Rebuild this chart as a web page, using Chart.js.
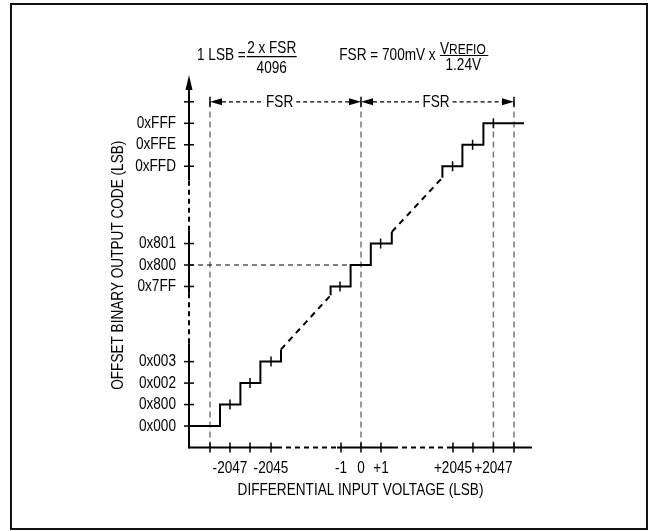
<!DOCTYPE html>
<html lang="en">
<head>
    <meta charset="UTF-8">
    <title>Offset binary transfer function</title>
    <script src="https://cdn.jsdelivr.net/npm/chart.js"></script>
    <style>
        body { margin: 0; background: #fff; }
        canvas { display: block; }
    </style>
</head>
<body>
    <canvas id="transferChart" width="649" height="531"></canvas>

    <script>
        const FONT = "'Liberation Sans', Arial, sans-serif";
        const NARROW = 0.8; // the original uses a condensed face

        // axis ticks (schematic positions, 1 unit ~ 1 LSB)
        const xTicks = [-7.55, -6.55, -5.55, -4.5, -1, 0, 1, 4.6, 5.6, 6.62, 7.65];
        const xLabels = ['', '-2047', '', '-2045', '-1', '0', '+1', '+2045', '', '+2047', ''];
        const yTicks = [1, 2, 3, 4, 7.5, 8.5, 9.5, 13.1, 14.1, 15.1, 16.1];
        const yLabels = ['0x000', '0x800', '0x002', '0x003', '0x7FF', '0x800', '0x801', '0xFFD', '0xFFE', '0xFFF', ''];
        const xTitle = 'DIFFERENTIAL INPUT VOLTAGE (LSB)';
        const yTitle = 'OFFSET BINARY OUTPUT CODE (LSB)';

        // staircase pieces
        const lowStepX = [-8.6, -7.05, -7.05, -6.03, -6.03, -5.03, -5.03, -4.0, -4.0];
        const lowStepY = [1, 1, 2, 2, 3, 3, 4, 4, 4.57];
        const midStepX = [-1.52, -1.52, -0.52, -0.52, 0.49, 0.49, 1.54, 1.54];
        const midStepY = [7.09, 7.5, 7.5, 8.5, 8.5, 9.5, 9.5, 10.04];
        const highStepX = [4.07, 4.07, 5.07, 5.07, 6.12, 6.12, 8.15];
        const highStepY = [12.57, 13.1, 13.1, 14.1, 14.1, 15.1, 15.1];

        // dashed links between the pieces
        const linkLowX = [-4.0, -1.52];
        const linkLowY = [4.57, 7.09];
        const linkHighX = [1.54, 4.07];
        const linkHighY = [10.04, 12.57];

        // code centre marks
        const markX = [-6.55, -5.55, -4.5, -1.05, 0.98, 4.58, 5.58, 6.62];
        const markY = [2, 3, 4, 7.5, 9.5, 13.1, 14.1, 15.1];

        // reference lines
        const refVertX = [-7.55, 0, 6.62, 7.65];
        const refVertTop = [16.1, 16.1, 15.1, 16.1];
        const midCode = 8.5;
        const midCodeEnd = -0.52;

        // full scale range arrows
        const fsrRow = 16.1;
        const fsrEnds = [-7.55, 0, 7.65];
        const fsrTextX = [-4.07, 3.75];

        // broken parts of the axes
        const xAxisDashed = [[-4.2, -1.2], [1.6, 4.3]];
        const yAxisDashed = [[4.86, 7.19], [10.1, 12.44]];

        const zip = (xs, ys) => xs.map((v, i) => ({ x: v, y: ys[i] }));

        function lineSet(points, color, width, dash) {
            return {
                data: points,
                borderColor: color,
                borderWidth: width,
                borderDash: dash || [],
                pointRadius: 0,
                fill: false,
                tension: 0,
                clip: false
            };
        }

        const datasets = [
            lineSet(zip(lowStepX, lowStepY), '#000', 2),
            lineSet(zip(midStepX, midStepY), '#000', 2),
            lineSet(zip(highStepX, highStepY), '#000', 2),
            lineSet(zip(linkLowX, linkLowY), '#000', 2, [6, 5]),
            lineSet(zip(linkHighX, linkHighY), '#000', 2, [6, 5]),
            {
                data: zip(markX, markY),
                showLine: false,
                pointStyle: 'line',
                rotation: 90,
                pointRadius: 5,
                borderColor: '#000',
                borderWidth: 1.5,
                clip: false
            },
            lineSet([{ x: -8.6, y: midCode }, { x: midCodeEnd, y: midCode }], '#000', 1.2, [5, 4])
        ];
        refVertX.forEach((v, i) => {
            datasets.push(lineSet([{ x: v, y: 0 }, { x: v, y: refVertTop[i] }], '#777', 1.5, [6, 4]));
        });

        function seg(ctx, x1, y1, x2, y2, width, dash) {
            ctx.beginPath();
            ctx.lineWidth = width;
            ctx.setLineDash(dash || []);
            ctx.moveTo(x1, y1);
            ctx.lineTo(x2, y2);
            ctx.stroke();
        }

        function tri(ctx, tipX, yy, dir) {
            ctx.beginPath();
            ctx.moveTo(tipX, yy);
            ctx.lineTo(tipX - dir * 12, yy - 3.5);
            ctx.lineTo(tipX - dir * 12, yy + 3.5);
            ctx.closePath();
            ctx.fill();
        }

        // condensed text: squeeze the face horizontally
        function text(ctx, str, x, y, align, size, base, angle) {
            ctx.save();
            ctx.translate(x, y);
            if (angle) ctx.rotate(angle);
            ctx.scale(NARROW, 1);
            ctx.font = size + 'px ' + FONT;
            ctx.textAlign = align;
            ctx.textBaseline = base || 'middle';
            ctx.fillText(str, 0, 0);
            const w = ctx.measureText(str).width * NARROW;
            ctx.restore();
            return w;
        }

        function textWidth(ctx, str, size) {
            ctx.save();
            ctx.font = size + 'px ' + FONT;
            const w = ctx.measureText(str).width * NARROW;
            ctx.restore();
            return w;
        }

        const schematic = {
            id: 'schematic',
            afterDraw(chart) {
                const { ctx, chartArea: a, scales: { x, y } } = chart;
                const px = v => x.getPixelForValue(v);
                const py = v => y.getPixelForValue(v);
                ctx.save();
                ctx.fillStyle = '#000';

                // outer frame
                ctx.strokeStyle = '#111';
                ctx.lineWidth = 2;
                ctx.strokeRect(11, 4, 636, 525);
                ctx.strokeStyle = '#000';

                // x axis (broken)
                seg(ctx, a.left, a.bottom, px(xAxisDashed[0][0]), a.bottom, 2);
                seg(ctx, px(xAxisDashed[0][0]), a.bottom, px(xAxisDashed[0][1]), a.bottom, 2, [5, 4]);
                seg(ctx, px(xAxisDashed[0][1]), a.bottom, px(xAxisDashed[1][0]), a.bottom, 2);
                seg(ctx, px(xAxisDashed[1][0]), a.bottom, px(xAxisDashed[1][1]), a.bottom, 2, [5, 4]);
                seg(ctx, px(xAxisDashed[1][1]), a.bottom, a.right, a.bottom, 2);

                // y axis (broken) with arrow
                const arrowBase = a.top + 15;
                seg(ctx, a.left, a.bottom + 1, a.left, py(yAxisDashed[0][0]), 2);
                seg(ctx, a.left, py(yAxisDashed[0][0]), a.left, py(yAxisDashed[0][1]), 2, [5, 4]);
                seg(ctx, a.left, py(yAxisDashed[0][1]), a.left, py(yAxisDashed[1][0]), 2);
                seg(ctx, a.left, py(yAxisDashed[1][0]), a.left, py(yAxisDashed[1][1]), 2, [5, 4]);
                seg(ctx, a.left, py(yAxisDashed[1][1]), a.left, arrowBase, 2);
                ctx.beginPath();
                ctx.moveTo(a.left, a.top);
                ctx.lineTo(a.left - 3.5, arrowBase);
                ctx.lineTo(a.left + 3.5, arrowBase);
                ctx.closePath();
                ctx.fill();

                // tick marks crossing the axes, and their labels
                xTicks.forEach((v, i) => {
                    seg(ctx, px(v), a.bottom - 5, px(v), a.bottom + 5, 1.5);
                    if (xLabels[i]) text(ctx, xLabels[i], px(v), a.bottom + 21, 'center', 17);
                });
                yTicks.forEach((v, i) => {
                    seg(ctx, a.left - 5, py(v), a.left + 5, py(v), 1.5);
                    if (yLabels[i]) text(ctx, yLabels[i], a.left - 13, py(v), 'right', 17);
                });

                // axis titles
                text(ctx, xTitle, (a.left + a.right) / 2, a.bottom + 43, 'center', 17);
                text(ctx, yTitle, 118, (a.top + a.bottom) / 2 + 4, 'center', 17, 'middle', -Math.PI / 2);

                // FSR arrows
                const ry = py(fsrRow);
                fsrEnds.forEach(v => seg(ctx, px(v), ry - 5, px(v), ry + 5, 1.5));
                const half = textWidth(ctx, 'FSR', 17) / 2 + 3;
                fsrTextX.forEach((t, i) => {
                    const l = px(fsrEnds[i]), r = px(fsrEnds[i + 1]);
                    const tx = px(t);
                    tri(ctx, l, ry, -1);
                    tri(ctx, r, ry, 1);
                    seg(ctx, l + 12, ry, tx - half, ry, 1.2, [4, 3]);
                    seg(ctx, tx + half, ry, r - 12, ry, 1.2, [4, 3]);
                    text(ctx, 'FSR', tx, ry, 'center', 17);
                });

                // formulas
                text(ctx, '1 LSB =', 197, 55, 'left', 17);
                text(ctx, '2 x FSR', 271.7, 48.3, 'center', 17);
                seg(ctx, 246.7, 56.7, 296.7, 56.7, 1.2);
                text(ctx, '4096', 271.7, 68.3, 'center', 17);
                text(ctx, 'FSR = 700mV x', 339.3, 55, 'left', 17);
                const vW = text(ctx, 'V', 440, 54, 'left', 17, 'alphabetic');
                text(ctx, 'REFIO', 440 + vW, 54, 'left', 15, 'alphabetic');
                seg(ctx, 440, 55.5, 488.3, 55.5, 1.2);
                text(ctx, '1.24V', 463.3, 65.5, 'center', 17);
                ctx.restore();
            }
        };

        new Chart(document.getElementById('transferChart'), {
            type: 'line',
            data: { datasets: datasets },
            options: {
                responsive: false,
                animation: false,
                devicePixelRatio: 1,
                layout: { padding: { top: 75, right: 117, left: 0, bottom: 0 } },
                plugins: { legend: { display: false }, tooltip: { enabled: false } },
                scales: {
                    x: {
                        type: 'linear',
                        min: -8.6,
                        max: 8.55,
                        afterBuildTicks: s => { s.ticks = xTicks.map(v => ({ value: v })); },
                        afterFit: s => { s.height = 83.5; },
                        grid: { display: false, drawTicks: false },
                        border: { display: false },
                        ticks: { display: false, autoSkip: false }
                    },
                    y: {
                        type: 'linear',
                        min: 0,
                        max: 17.35,
                        afterBuildTicks: s => { s.ticks = yTicks.map(v => ({ value: v })); },
                        afterFit: s => { s.width = 189; },
                        grid: { display: false, drawTicks: false },
                        border: { display: false },
                        ticks: { display: false, autoSkip: false }
                    }
                }
            },
            plugins: [schematic]
        });
    </script>
</body>
</html>
